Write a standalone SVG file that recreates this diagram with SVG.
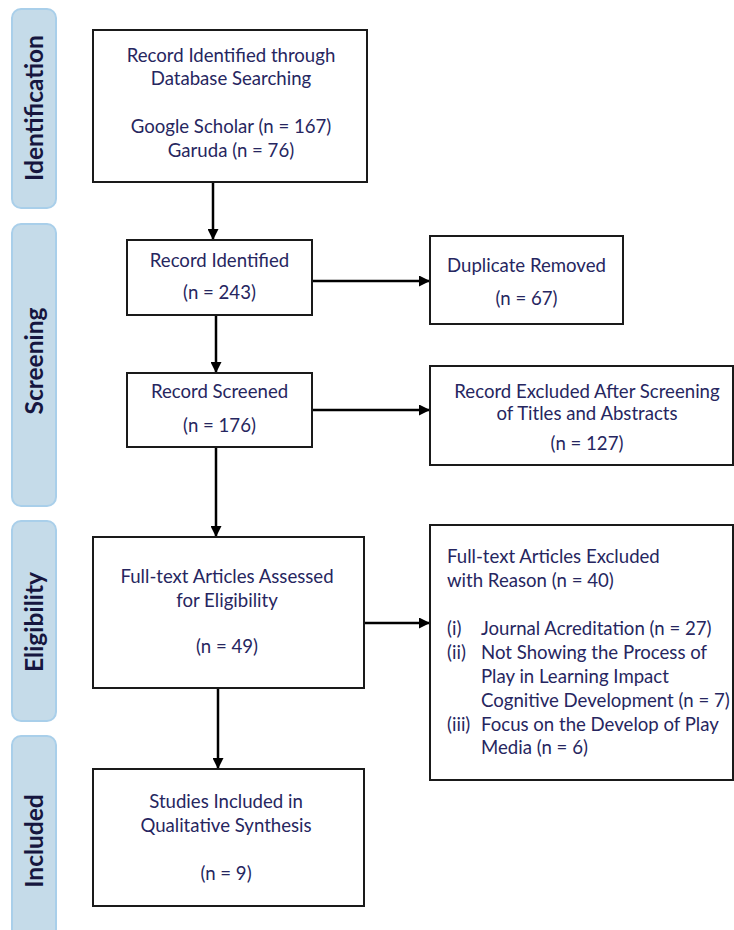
<svg xmlns="http://www.w3.org/2000/svg" width="734" height="930" viewBox="0 0 734 930">
<defs>
<style>
.lab{fill:#c5dbe9;stroke:#a9cfea;stroke-width:2}
.labt{font-family:Lato,"Liberation Sans",sans-serif;font-weight:bold;font-size:24.5px;fill:#16163f;text-anchor:middle}
.box{fill:#fff;stroke:#1a1a1a;stroke-width:2}
.t{font-family:Lato,"Liberation Sans",sans-serif;font-size:18.6px;fill:#262660}
.c{text-anchor:middle}
.con{stroke:#000;stroke-width:2.5;fill:none}
</style>
<marker id="ah" viewBox="0 0 10 10" refX="10" refY="5" markerWidth="4.4" markerHeight="4.4" markerUnits="strokeWidth" orient="auto">
<path d="M0,0 L10,5 L0,10 Z" fill="#000"/>
</marker>
</defs>
<rect width="734" height="930" fill="#fff"/>
<g id="stage-identification">
<rect class="lab" x="12" y="9" width="44" height="199" rx="9"/>
<text class="labt" transform="translate(42.5,108) rotate(-90)">Identification</text>
</g>
<g id="stage-screening">
<rect class="lab" x="12" y="224" width="44" height="282" rx="9"/>
<text class="labt" transform="translate(42.5,361) rotate(-90)">Screening</text>
</g>
<g id="stage-eligibility">
<rect class="lab" x="12" y="521" width="44" height="200" rx="9"/>
<text class="labt" transform="translate(42.5,622) rotate(-90)">Eligibility</text>
</g>
<g id="stage-included">
<rect class="lab" x="12" y="736" width="44" height="210" rx="9"/>
<text class="labt" transform="translate(42.5,841) rotate(-90)">Included</text>
</g>
<g id="connectors">
<line class="con" x1="213" y1="182" x2="213" y2="240" marker-end="url(#ah)"/>
<line class="con" x1="216" y1="315" x2="216" y2="373" marker-end="url(#ah)"/>
<line class="con" x1="312" y1="281" x2="430" y2="281" marker-end="url(#ah)"/>
<line class="con" x1="312" y1="410" x2="430" y2="410" marker-end="url(#ah)"/>
<line class="con" x1="216" y1="447" x2="216" y2="537" marker-end="url(#ah)"/>
<line class="con" x1="364" y1="623" x2="430" y2="623" marker-end="url(#ah)"/>
<line class="con" x1="218" y1="688" x2="218" y2="769" marker-end="url(#ah)"/>
</g>
<g id="n-database">
<rect class="box" x="93" y="30" width="274" height="152"/>
<text class="t c" x="231" y="62">Record Identified through</text>
<text class="t c" x="231" y="85">Database Searching</text>
<text class="t c" x="231" y="133">Google Scholar (n = 167)</text>
<text class="t c" x="231" y="157">Garuda (n = 76)</text>
</g>
<g id="n-identified">
<rect class="box" x="127" y="240" width="185" height="75"/>
<text class="t c" x="219.5" y="267">Record Identified</text>
<text class="t c" x="219.5" y="299">(n = 243)</text>
</g>
<g id="n-duplicate">
<rect class="box" x="430" y="236" width="193" height="88"/>
<text class="t c" x="526.5" y="272">Duplicate Removed</text>
<text class="t c" x="526.5" y="305">(n = 67)</text>
</g>
<g id="n-screened">
<rect class="box" x="127" y="373" width="185" height="74"/>
<text class="t c" x="219.5" y="398">Record Screened</text>
<text class="t c" x="219.5" y="432">(n = 176)</text>
</g>
<g id="n-excluded-screening">
<rect class="box" x="430" y="366" width="303" height="99"/>
<text class="t c" x="587" y="398">Record Excluded After Screening</text>
<text class="t c" x="587" y="420">of Titles and Abstracts</text>
<text class="t c" x="587" y="450">(n = 127)</text>
</g>
<g id="n-assessed">
<rect class="box" x="93" y="537" width="271" height="151"/>
<text class="t c" x="227" y="583">Full-text Articles Assessed</text>
<text class="t c" x="227" y="607">for Eligibility</text>
<text class="t c" x="227" y="653">(n = 49)</text>
</g>
<g id="n-excluded-reason">
<rect class="box" x="430" y="525" width="303" height="255"/>
<text class="t" x="447" y="563">Full-text Articles Excluded</text>
<text class="t" x="447" y="587">with Reason (n = 40)</text>
<text class="t" x="447" y="635">(i)</text>
<text class="t" x="481" y="635">Journal Acreditation (n = 27)</text>
<text class="t" x="447" y="659">(ii)</text>
<text class="t" x="481" y="659">Not Showing the Process of</text>
<text class="t" x="481" y="683">Play in Learning Impact</text>
<text class="t" x="481" y="707">Cognitive Development (n = 7)</text>
<text class="t" x="447" y="731">(iii)</text>
<text class="t" x="481" y="731">Focus on the Develop of Play</text>
<text class="t" x="481" y="754">Media (n = 6)</text>
</g>
<g id="n-included">
<rect class="box" x="93" y="769" width="271" height="137"/>
<text class="t c" x="226" y="808">Studies Included in</text>
<text class="t c" x="226" y="832">Qualitative Synthesis</text>
<text class="t c" x="226" y="880">(n = 9)</text>
</g>
</svg>
